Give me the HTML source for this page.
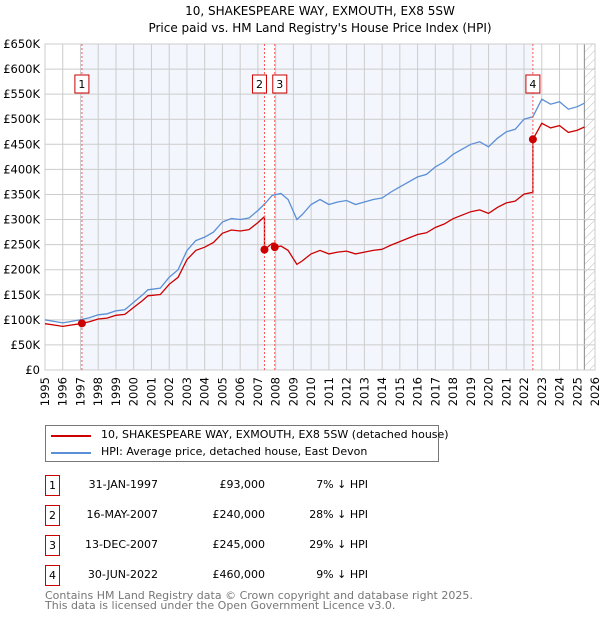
<!DOCTYPE html>
<html><head><meta charset="utf-8">
<style>
body{margin:0;background:#fff;font-family:"DejaVu Sans","Liberation Sans",sans-serif;}
#wrap{position:relative;width:600px;height:620px;overflow:hidden}
.t{position:absolute;font-size:11px;color:#000;white-space:nowrap}
.box{position:absolute;border:1px solid #c00;width:13px;height:19px;font-size:11px;text-align:center;line-height:19px}
</style></head><body>
<div id="wrap">
<svg id="chart" width="600" height="420" style="position:absolute;left:0;top:0" font-family="DejaVu Sans, Liberation Sans, sans-serif">
<defs><pattern id="hatch" width="6" height="6" patternUnits="userSpaceOnUse" patternTransform="rotate(45)"><line x1="0" y1="0" x2="0" y2="6" stroke="#bbb" stroke-width="1"/></pattern></defs>
<text x="320" y="15" text-anchor="middle" font-size="12">10, SHAKESPEARE WAY, EXMOUTH, EX8 5SW</text>
<text x="320" y="32" text-anchor="middle" font-size="12">Price paid vs. HM Land Registry's House Price Index (HPI)</text>
<g id="bg"></g><g id="grid"></g><g id="axes"></g><g id="series"></g><g id="marks"></g>
</svg>
<div style="position:absolute;left:45px;top:425px;width:392px;height:35px;border:1px solid #777">
 <div style="position:absolute;left:5px;top:9px;width:40px;height:2px;background:#c00"></div>
 <div class="t" style="left:55px;top:2px">10, SHAKESPEARE WAY, EXMOUTH, EX8 5SW (detached house)</div>
 <div style="position:absolute;left:5px;top:26px;width:40px;height:2px;background:#5b8fd6"></div>
 <div class="t" style="left:55px;top:19px">HPI: Average price, detached house, East Devon</div>
</div>
<div id="table"></div>
<div class="t" style="left:45px;top:591px;color:#777;line-height:10px">Contains HM Land Registry data © Crown copyright and database right 2025.<br>This data is licensed under the Open Government Licence v3.0.</div>
</div>
<script>
const hpiYears=[1995,1995.5,1996,1996.5,1997,1997.5,1998,1998.5,1999,1999.5,2000,2000.5,2000.8,2001.5,2002,2002.5,2003,2003.5,2004,2004.5,2005,2005.5,2006,2006.5,2007,2007.4,2007.8,2008.3,2008.7,2009.2,2009.5,2010,2010.5,2011,2011.5,2012,2012.5,2013,2013.5,2014,2014.5,2015,2015.5,2016,2016.5,2017,2017.5,2018,2018.5,2019,2019.5,2020,2020.5,2021,2021.5,2022,2022.5,2023,2023.5,2024,2024.5,2025,2025.4];
const hpiValues=[100,97,94,97,100,104,110,112,118,120,135,150,160,163,185,200,238,258,265,275,295,302,300,303,318,332,348,352,340,300,310,330,340,330,335,338,330,335,340,343,355,365,375,385,390,405,415,430,440,450,455,445,462,475,480,500,505,540,530,535,520,525,532];
const saleLabels=["1","2","3","4"];
const saleDates=["31-JAN-1997","16-MAY-2007","13-DEC-2007","30-JUN-2022"];
const saleYears=[1997.08,2007.37,2007.95,2022.5];
const salePrices=[93,240,245,460];
const salePriceText=["£93,000","£240,000","£245,000","£460,000"];
const saleDiffText=["7% ↓ HPI","28% ↓ HPI","29% ↓ HPI","9% ↓ HPI"];
const yTicks=[0,50,100,150,200,250,300,350,400,450,500,550,600,650];
const yTickLabels=["£0","£50K","£100K","£150K","£200K","£250K","£300K","£350K","£400K","£450K","£500K","£550K","£600K","£650K"];
const xTicks=[1995,1996,1997,1998,1999,2000,2001,2002,2003,2004,2005,2006,2007,2008,2009,2010,2011,2012,2013,2014,2015,2016,2017,2018,2019,2020,2021,2022,2023,2024,2025,2026];

const X0=45,X1=595,Y0=370,Y1=44;
const x=y=>X0+(y-1995)*(X1-X0)/31;
const y=v=>Y0-v*(Y0-Y1)/650;
const NS="http://www.w3.org/2000/svg";
function mk(tag,parent,attrs){const e=document.createElementNS(NS,tag);for(const k in attrs)e.setAttribute(k,attrs[k]);document.getElementById(parent).appendChild(e);return e;}
function hpiAt(t){for(let i=0;i<hpiYears.length-1;i++){if(t<=hpiYears[i+1]){const f=(t-hpiYears[i])/(hpiYears[i+1]-hpiYears[i]);return hpiValues[i]+f*(hpiValues[i+1]-hpiValues[i]);}}return hpiValues[hpiValues.length-1];}

let r=mk('rect','bg',{x:X0,y:Y1,width:X1-X0,height:Y0-Y1,fill:'#fff'});

r=mk('rect','bg',{x:x(saleYears[0]),y:Y1,width:x(saleYears[1])-x(saleYears[0]),height:Y0-Y1,fill:'#f3f6fd'});

r=mk('rect','bg',{x:x(saleYears[2]),y:Y1,width:x(saleYears[3])-x(saleYears[2]),height:Y0-Y1,fill:'#f3f6fd'});

r=mk('rect','bg',{x:x(2025.4),y:Y1,width:X1-x(2025.4),height:Y0-Y1,fill:'url(#hatch)'});

r=mk('line','bg',{x1:x(2025.4),x2:x(2025.4),y1:Y1,y2:Y0,stroke:'#888'});


yTicks.forEach((v,i)=>{
 let l=mk('line','grid',{x1:X0,x2:X1,y1:y(v),y2:y(v),stroke:'#ccc'});
 
 let t=mk('text','axes',{x:40,y:y(v)+4,'text-anchor':'end','font-size':11.5});t.textContent=yTickLabels[i];
 
});
xTicks.forEach(yr=>{
 let l=mk('line','grid',{x1:x(yr),x2:x(yr),y1:Y1,y2:Y0,stroke:'#ccc'});
 
 let t=mk('text','axes',{x:0,y:0,'text-anchor':'end','font-size':11.5,transform:`translate(${x(yr)+4},377) rotate(-90)`});t.textContent=yr;
 
});
r=mk('rect','grid',{x:X0,y:Y1,width:X1-X0,height:Y0-Y1,fill:'none',stroke:'#ccc'});


let p=hpiYears.map((t,i)=>(i?'L':'M')+x(t).toFixed(1)+','+y(hpiValues[i]).toFixed(1)).join('');
let hl=mk('path','series',{d:p,fill:'none',stroke:'#5b8fd6','stroke-width':1.3});


const ratios=saleYears.map((t,i)=>salePrices[i]/hpiAt(t));
let pts=[];
const allT=[...hpiYears,...saleYears].sort((a,b)=>a-b);
allT.forEach(t=>{
 let k=0;for(let i=0;i<saleYears.length;i++)if(t>=saleYears[i])k=i;
 if(saleYears.includes(t)&&saleYears.indexOf(t)>0){const j=saleYears.indexOf(t);pts.push([t,hpiAt(t)*ratios[j-1]]);}
 pts.push([t,hpiAt(t)*ratios[k]]);
});
p=pts.map((q,i)=>(i?'L':'M')+x(q[0]).toFixed(1)+','+y(q[1]).toFixed(1)).join('');
let rl=mk('path','series',{d:p,fill:'none',stroke:'#c00','stroke-width':1.3});


saleYears.forEach((t,i)=>{
 let l=mk('line','marks',{x1:x(t),x2:x(t),y1:Y1,y2:Y0,stroke:'#f55','stroke-dasharray':'2,2'});
 
 let c=mk('circle','marks',{cx:x(t),cy:y(salePrices[i]),r:4,fill:'#c00'});
 
 const bx=(i==1)?x(t)-12:(i==2)?x(t)-2:x(t)-7;
 let b=mk('rect','marks',{x:bx,y:75,width:14,height:18,fill:'#fff',stroke:'#c00'});
 
 let tx=mk('text','marks',{x:bx+7,y:88,'text-anchor':'middle','font-size':11});tx.textContent=saleLabels[i];
 
});

const tb=document.getElementById('table');
saleLabels.forEach((s,i)=>{
 const top=475+i*30;
 const row=document.createElement('div');
 
 
 row.innerHTML=`<div class="box" style="left:45px;top:${top}px">${s}</div>
 <div class="t" style="left:58px;width:100px;text-align:right;top:${top+3}px">${saleDates[i]}</div>
 <div class="t" style="left:165px;width:100px;text-align:right;top:${top+3}px">${salePriceText[i]}</div>
 <div class="t" style="left:268px;width:100px;text-align:right;top:${top+3}px">${saleDiffText[i]}</div>`;
 tb.appendChild(row);
});
</script>
</body></html>
